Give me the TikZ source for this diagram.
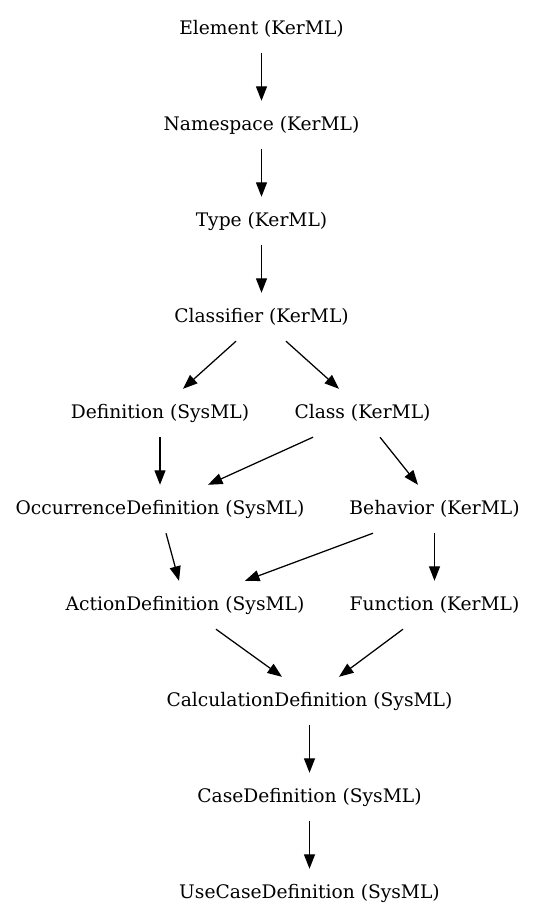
\documentclass[tikz,border=0pt]{standalone}
\usepackage{fontspec}
\setmainfont{DejaVu Serif}
\usetikzlibrary{arrows.meta}
\begin{document}
\begin{tikzpicture}[x=1pt,y=-1pt,
  lbl/.style={inner sep=0pt, minimum height=48pt, font=\fontsize{18.67}{22}\selectfont},
  edge/.style={-{Triangle[length=14.5pt,width=11pt]}, line width=1.25pt}]
\useasboundingbox (0,0) rectangle (535,923);
\node[lbl] (el)  at (261.5,29)  {Element (KerML)};
\node[lbl] (ns)  at (261.5,125) {Namespace (KerML)};
\node[lbl] (ty)  at (261.5,221) {Type (KerML)};
\node[lbl] (cl)  at (261.5,317) {Classifier (KerML)};
\node[lbl] (def) at (160,413) {Definition (SysML)};
\node[lbl] (cls) at (362.5,413) {Class (KerML)};
\node[lbl] (occ) at (160,509) {OccurrenceDefinition (SysML)};
\node[lbl] (beh) at (434.5,509) {Behavior (KerML)};
\node[lbl] (act) at (185,605) {ActionDefinition (SysML)};
\node[lbl] (fun) at (434.5,605) {Function (KerML)};
\node[lbl] (calc) at (309.5,701) {CalculationDefinition (SysML)};
\node[lbl] (case) at (309.5,797) {CaseDefinition (SysML)};
\node[lbl] (uc)  at (309.5,893) {UseCaseDefinition (SysML)};
\draw[edge] (el) -- (ns);
\draw[edge] (ns) -- (ty);
\draw[edge] (ty) -- (cl);
\draw[edge] ([xshift=-25.5pt]cl.south) -- ([xshift=23pt]def.north);
\draw[edge] ([xshift=24.5pt]cl.south) -- ([xshift=-23.5pt]cls.north);
\draw[edge] (def) -- (occ);
\draw[edge] ([xshift=-49.5pt]cls.south) -- ([xshift=48pt]occ.north);
\draw[edge] ([xshift=17.5pt]cls.south) -- ([xshift=-16.5pt]beh.north);
\draw[edge] ([xshift=6pt]occ.south) -- ([xshift=-6pt]act.north);
\draw[edge] ([xshift=-61.5pt]beh.south) -- ([xshift=60pt]act.north);
\draw[edge] (beh) -- (fun);
\draw[edge] ([xshift=31pt]act.south) -- ([xshift=-27.5pt]calc.north);
\draw[edge] ([xshift=-31.5pt]fun.south) -- ([xshift=29.5pt]calc.north);
\draw[edge] (calc) -- (case);
\draw[edge] (case) -- (uc);
\end{tikzpicture}
\end{document}
